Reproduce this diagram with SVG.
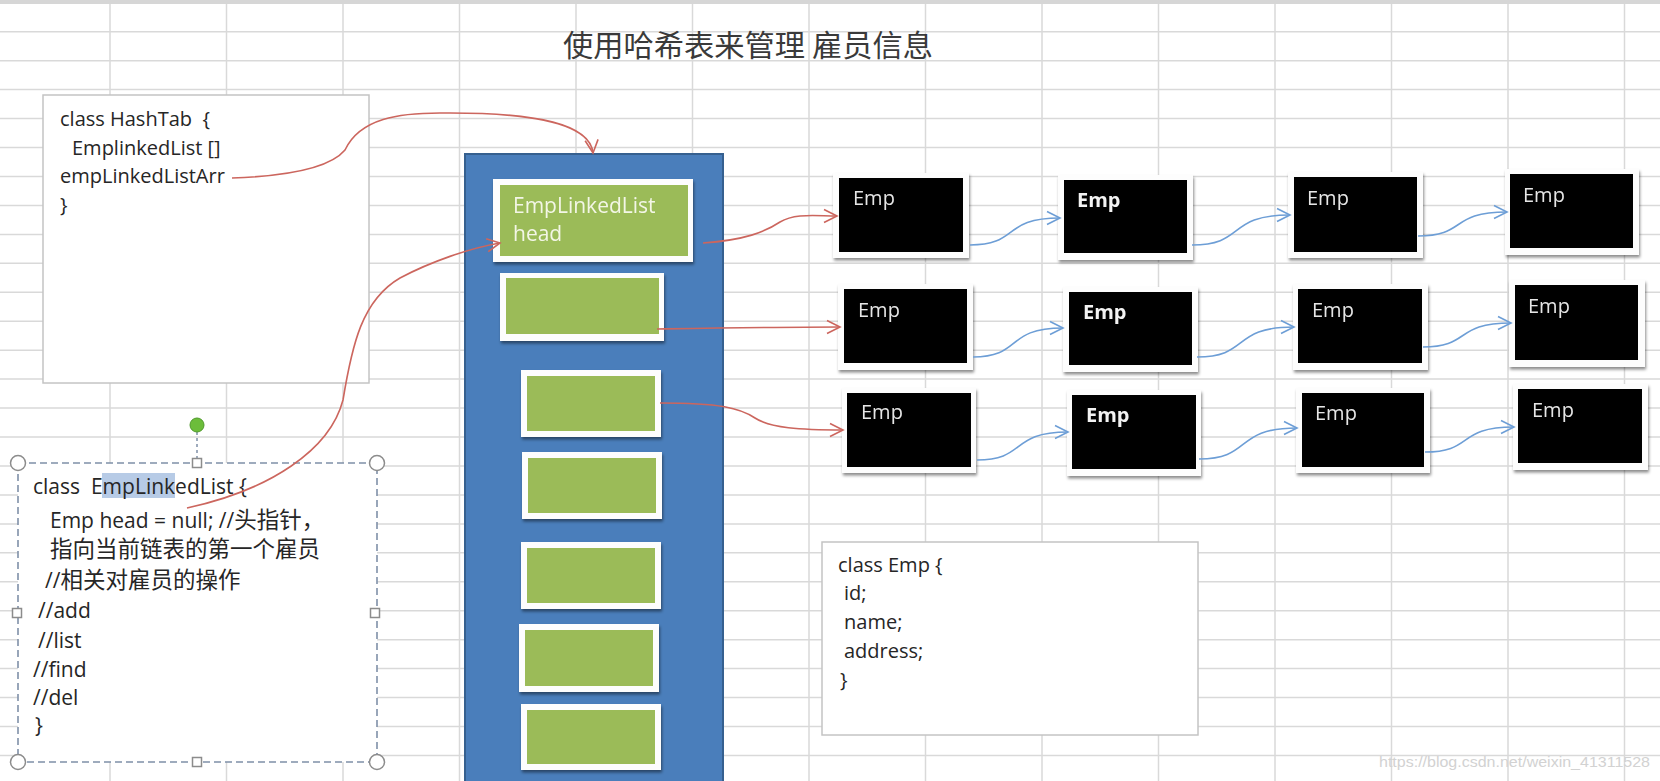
<svg xmlns="http://www.w3.org/2000/svg" width="1660" height="781" viewBox="0 0 1660 781">
<style>
.grid line{stroke:#d9d9d9;stroke-width:1.5}
.t{font-family:"Open Sans","Noto Sans CJK SC",sans-serif;fill:#262626}
.cj{font-family:"Noto Sans CJK SC",sans-serif;font-size:22.5px}
.panel{fill:#ffffff;stroke:#c4c4c4;stroke-width:1.5}
.gout{fill:#fdfdfd}
.gin{fill:#9bbb59}
.eout{fill:#fdfdfd}
.ein{fill:#000000}
.et{font-family:"Open Sans",sans-serif;font-size:20px;fill:#e6e6e6}
.eb{font-weight:bold;fill:#f2f2f2}
.red{fill:none;stroke:#cc665e;stroke-width:1.6}
.blue{fill:none;stroke:#6d9ed6;stroke-width:1.6}
.hdl{fill:#ffffff;stroke:#8c8c8c;stroke-width:1.5}
</style>
<defs>
<filter id="sh" x="-10%" y="-10%" width="130%" height="140%">
<feDropShadow dx="1" dy="2.5" stdDeviation="1.5" flood-color="#000" flood-opacity="0.45"/>
</filter>
<marker id="ar" viewBox="0 0 16 16" refX="14" refY="8" markerWidth="16" markerHeight="16" markerUnits="userSpaceOnUse" orient="auto">
<path d="M1,1.5 L14,8 L1,14.5" fill="none" stroke="#cc665e" stroke-width="1.6"/>
</marker>
<marker id="ab" viewBox="0 0 16 16" refX="14" refY="8" markerWidth="16" markerHeight="16" markerUnits="userSpaceOnUse" orient="auto">
<path d="M1,1.5 L14,8 L1,14.5" fill="none" stroke="#6d9ed6" stroke-width="1.6"/>
</marker>
</defs>
<rect x="0" y="0" width="1660" height="781" fill="#ffffff"/>
<g class="grid">
<line x1="110" y1="0" x2="110" y2="781"/><line x1="226.5" y1="0" x2="226.5" y2="781"/><line x1="343" y1="0" x2="343" y2="781"/><line x1="459.5" y1="0" x2="459.5" y2="781"/><line x1="576" y1="0" x2="576" y2="781"/><line x1="692.5" y1="0" x2="692.5" y2="781"/><line x1="809" y1="0" x2="809" y2="781"/><line x1="925.5" y1="0" x2="925.5" y2="781"/><line x1="1042" y1="0" x2="1042" y2="781"/><line x1="1158.5" y1="0" x2="1158.5" y2="781"/><line x1="1275" y1="0" x2="1275" y2="781"/><line x1="1391.5" y1="0" x2="1391.5" y2="781"/><line x1="1508" y1="0" x2="1508" y2="781"/><line x1="1624.5" y1="0" x2="1624.5" y2="781"/>
<line x1="0" y1="31.7" x2="1660" y2="31.7"/><line x1="0" y1="60.7" x2="1660" y2="60.7"/><line x1="0" y1="89.6" x2="1660" y2="89.6"/><line x1="0" y1="118.6" x2="1660" y2="118.6"/><line x1="0" y1="147.5" x2="1660" y2="147.5"/><line x1="0" y1="176.5" x2="1660" y2="176.5"/><line x1="0" y1="205.4" x2="1660" y2="205.4"/><line x1="0" y1="234.4" x2="1660" y2="234.4"/><line x1="0" y1="263.3" x2="1660" y2="263.3"/><line x1="0" y1="292.3" x2="1660" y2="292.3"/><line x1="0" y1="321.2" x2="1660" y2="321.2"/><line x1="0" y1="350.2" x2="1660" y2="350.2"/><line x1="0" y1="379.1" x2="1660" y2="379.1"/><line x1="0" y1="408.1" x2="1660" y2="408.1"/><line x1="0" y1="437" x2="1660" y2="437"/><line x1="0" y1="466" x2="1660" y2="466"/><line x1="0" y1="494.9" x2="1660" y2="494.9"/><line x1="0" y1="523.9" x2="1660" y2="523.9"/><line x1="0" y1="552.8" x2="1660" y2="552.8"/><line x1="0" y1="581.8" x2="1660" y2="581.8"/><line x1="0" y1="610.7" x2="1660" y2="610.7"/><line x1="0" y1="639.7" x2="1660" y2="639.7"/><line x1="0" y1="668.6" x2="1660" y2="668.6"/><line x1="0" y1="697.6" x2="1660" y2="697.6"/><line x1="0" y1="726.5" x2="1660" y2="726.5"/><line x1="0" y1="755.5" x2="1660" y2="755.5"/>
</g>
<rect x="0" y="0" width="1660" height="4" fill="#d6d6d6"/>
<text x="563" y="56" font-family="'Noto Sans CJK SC',sans-serif" font-size="30" fill="#3a3a3a" textLength="370" lengthAdjust="spacingAndGlyphs">使用哈希表来管理 雇员信息</text>

<g id="hashtab">
<rect class="panel" x="43" y="95" width="326" height="288"/>
<text class="t" font-size="20" style="white-space:pre"><tspan x="60" y="126">class HashTab  {</tspan><tspan x="72" y="155">EmplinkedList []</tspan><tspan x="60" y="183">empLinkedListArr</tspan><tspan x="60" y="212">}</tspan></text>
</g>

<g id="emplinkedlist">
<rect x="18" y="463" width="359" height="299" fill="#ffffff" stroke="#7f90a8" stroke-width="1.6" stroke-dasharray="7,4"/>
<line x1="197" y1="432" x2="197" y2="459" stroke="#7f90a8" stroke-width="1.5" stroke-dasharray="3,3"/>
<circle cx="197" cy="425" r="7" fill="#6cbd3a" stroke="#4f9a2b" stroke-width="1"/>
<circle class="hdl" cx="18" cy="463" r="7.5"/><circle class="hdl" cx="377" cy="463" r="7.5"/><circle class="hdl" cx="18" cy="762" r="7.5"/><circle class="hdl" cx="377" cy="762" r="7.5"/>
<rect class="hdl" x="192.5" y="458.5" width="9" height="9"/><rect class="hdl" x="192.5" y="757.5" width="9" height="9"/><rect class="hdl" x="12.5" y="608.5" width="9" height="9"/><rect class="hdl" x="370.5" y="608.5" width="9" height="9"/>
<rect x="102" y="473" width="73" height="25" fill="#b7cbe6"/>
<text class="t" font-size="21" style="white-space:pre">
<tspan x="33" y="494">class  EmpLinkedList {</tspan>
<tspan x="50" y="528">Emp head = null; //<tspan class="cj">头指针，</tspan></tspan>
<tspan x="50" y="557" class="cj">指向当前链表的第一个雇员</tspan>
<tspan x="45" y="588">//<tspan class="cj">相关对雇员的操作</tspan></tspan>
<tspan x="38" y="618">//add</tspan>
<tspan x="38" y="648">//list</tspan>
<tspan x="33" y="677">//find</tspan>
<tspan x="33" y="705">//del</tspan>
<tspan x="35" y="733">}</tspan>
</text>
</g>

<g id="hashtable">
<rect x="465" y="154" width="258" height="640" fill="#4a7ebb" stroke="#36608f" stroke-width="2"/>
</g>
<g id="slot1" filter="url(#sh)"><rect class="gout" x="493" y="179" width="200" height="83"/><rect class="gin" x="500" y="185" width="188" height="71"/>
<text class="t" font-size="21" style="fill:#f3f6e6"><tspan x="513" y="213">EmpLinkedList</tspan><tspan x="513" y="241">head</tspan></text></g>
<g id="slot2" filter="url(#sh)"><rect class="gout" x="500" y="273" width="164" height="68"/><rect class="gin" x="506" y="278" width="153" height="56"/></g>
<g id="slot3" filter="url(#sh)"><rect class="gout" x="521" y="370" width="140" height="67"/><rect class="gin" x="527" y="376" width="128" height="55"/></g>
<g id="slot4" filter="url(#sh)"><rect class="gout" x="522" y="452" width="140" height="67"/><rect class="gin" x="528" y="458" width="128" height="55"/></g>
<g id="slot5" filter="url(#sh)"><rect class="gout" x="521" y="542" width="140" height="67"/><rect class="gin" x="527" y="548" width="128" height="55"/></g>
<g id="slot6" filter="url(#sh)"><rect class="gout" x="519" y="624" width="140" height="68"/><rect class="gin" x="525" y="630" width="128" height="56"/></g>
<g id="slot7" filter="url(#sh)"><rect class="gout" x="521" y="704" width="140" height="66"/><rect class="gin" x="527" y="710" width="128" height="54"/></g>

<g id="emp-r1c1" filter="url(#sh)"><rect class="eout" x="833" y="173" width="136" height="85"/><rect class="ein" x="839" y="178" width="124" height="74"/><text class="et" x="853" y="205">Emp</text></g>
<g id="emp-r1c2" filter="url(#sh)"><rect class="eout" x="1058" y="175" width="135" height="85"/><rect class="ein" x="1064" y="180" width="123" height="73"/><text class="et eb" x="1077" y="207">Emp</text></g>
<g id="emp-r1c3" filter="url(#sh)"><rect class="eout" x="1288" y="172" width="135" height="86"/><rect class="ein" x="1294" y="177" width="123" height="75"/><text class="et" x="1307" y="205">Emp</text></g>
<g id="emp-r1c4" filter="url(#sh)"><rect class="eout" x="1505" y="169" width="134" height="86"/><rect class="ein" x="1510" y="174" width="123" height="74"/><text class="et" x="1523" y="202">Emp</text></g>

<g id="emp-r2c1" filter="url(#sh)"><rect class="eout" x="838" y="284" width="135" height="86"/><rect class="ein" x="844" y="289" width="123" height="74"/><text class="et" x="858" y="317">Emp</text></g>
<g id="emp-r2c2" filter="url(#sh)"><rect class="eout" x="1063" y="287" width="135" height="85"/><rect class="ein" x="1069" y="292" width="123" height="73"/><text class="et eb" x="1083" y="319">Emp</text></g>
<g id="emp-r2c3" filter="url(#sh)"><rect class="eout" x="1293" y="284" width="135" height="86"/><rect class="ein" x="1298" y="289" width="124" height="74"/><text class="et" x="1312" y="317">Emp</text></g>
<g id="emp-r2c4" filter="url(#sh)"><rect class="eout" x="1509" y="280" width="136" height="87"/><rect class="ein" x="1515" y="285" width="123" height="75"/><text class="et" x="1528" y="313">Emp</text></g>

<g id="emp-r3c1" filter="url(#sh)"><rect class="eout" x="842" y="388" width="134" height="85"/><rect class="ein" x="847" y="393" width="124" height="74"/><text class="et" x="861" y="419">Emp</text></g>
<g id="emp-r3c2" filter="url(#sh)"><rect class="eout" x="1067" y="390" width="134" height="86"/><rect class="ein" x="1072" y="395" width="124" height="74"/><text class="et eb" x="1086" y="422">Emp</text></g>
<g id="emp-r3c3" filter="url(#sh)"><rect class="eout" x="1296" y="388" width="134" height="85"/><rect class="ein" x="1302" y="393" width="122" height="74"/><text class="et" x="1315" y="420">Emp</text></g>
<g id="emp-r3c4" filter="url(#sh)"><rect class="eout" x="1513" y="384" width="135" height="86"/><rect class="ein" x="1518" y="389" width="124" height="74"/><text class="et" x="1532" y="417">Emp</text></g>

<g id="empclass">
<rect class="panel" x="822" y="542" width="376" height="193"/>
<text class="t" font-size="20"><tspan x="838" y="572">class Emp {</tspan><tspan x="844" y="600">id;</tspan><tspan x="844" y="629">name;</tspan><tspan x="844" y="658">address;</tspan><tspan x="840" y="687">}</tspan></text>
</g>

<g id="connectors">
<path class="red" marker-end="url(#ar)" d="M232 178 C290 176 330 168 345 150 C360 118 400 113 440 113 C540 112 590 125 593 153"/>
<path class="red" marker-end="url(#ar)" d="M187 508 C270 490 330 450 343 400 C352 345 362 300 400 278 C430 262 470 248 500 243"/>
<path class="red" marker-end="url(#ar)" d="M703 243 C745 240 765 232 780 222 C795 213 815 216 837 216"/>
<path class="red" marker-end="url(#ar)" d="M657 329 C720 328 780 327 840 327"/>
<path class="red" marker-end="url(#ar)" d="M660 403 C720 403 740 408 755 418 C770 428 800 430 843 430"/>
<path class="blue" marker-end="url(#ab)" d="M970 245 C1019.5 245 1001.5 218 1060 218"/>
<path class="blue" marker-end="url(#ab)" d="M1192 245 C1246 245 1226 215 1290 215"/>
<path class="blue" marker-end="url(#ab)" d="M1418 236 C1467 236 1449 212 1507 212"/>
<path class="blue" marker-end="url(#ab)" d="M973 357 C1022.5 357 1004.5 328 1063 328"/>
<path class="blue" marker-end="url(#ab)" d="M1197 357 C1250 357 1231 327 1294 327"/>
<path class="blue" marker-end="url(#ab)" d="M1423 347 C1471 347 1454 323 1511 323"/>
<path class="blue" marker-end="url(#ab)" d="M977 460 C1027 460 1009 432 1068 432"/>
<path class="blue" marker-end="url(#ab)" d="M1199 459 C1253 459 1233 428 1297 428"/>
<path class="blue" marker-end="url(#ab)" d="M1425 452 C1474 452 1456 427 1514 427"/>
</g>
<text x="1379" y="767" font-family="'Liberation Sans',sans-serif" font-size="15" fill="#d2d2d2" textLength="271" lengthAdjust="spacingAndGlyphs">https://blog.csdn.net/weixin_41311528</text>
</svg>
